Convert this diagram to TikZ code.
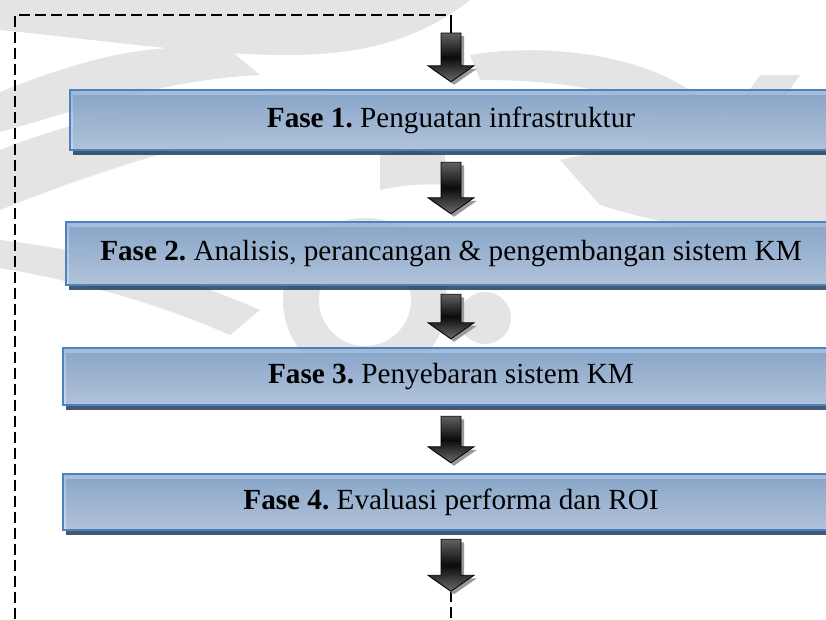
\documentclass[tikz,border=0pt]{standalone}
\usepackage{fontspec}
\setmainfont{Liberation Serif}
\usetikzlibrary{calc,shadows}

\definecolor{boxtop}{HTML}{93B1D6}
\definecolor{boxbot}{HTML}{C3D5EB}
\definecolor{boxline}{HTML}{4F81BD}
\definecolor{boxshadow}{HTML}{243F60}
\definecolor{wmgray}{HTML}{E4E4E4}

\tikzset{
  phase/.style={rectangle, draw=boxline, line width=2.5pt,
    top color=boxtop, bottom color=boxbot, fill opacity=0.86,
    text opacity=1, draw opacity=1,
    general shadow={fill=boxshadow, shadow xshift=3pt, shadow yshift=-5pt},
    inner sep=0pt, text=black,
    font=\fontsize{29.2}{35}\selectfont},
  loopline/.style={line width=1.4pt, dash pattern=on 11pt off 5pt},
  arrowbody/.style={draw=black, line width=0.8pt, top color=black!62,
    bottom color=black!58, middle color=black!96},
  arrowshade/.style={fill=black!40, draw=none},
  wm/.style={fill=wmgray, draw=none}
}

% block arrow from a named top point down to a named tip
\newcommand{\blockarrow}[2]{%
  \path let \p1=(#1), \p2=(#2) in
    [arrowshade] (\x1-7pt,\y1-3pt) -- (\x1+13pt,\y1-3pt) -- (\x1+13pt,\y2+13pt)
      -- (\x1+26pt,\y2+13pt) -- (\x2+3pt,\y2-3pt) -- (\x1-20pt,\y2+13pt)
      -- (\x1-7pt,\y2+13pt) -- cycle;
  \path let \p1=(#1), \p2=(#2) in
    [arrowbody] (\x1-10pt,\y1) -- (\x1+10pt,\y1) -- (\x1+10pt,\y2+16pt)
      -- (\x1+23pt,\y2+16pt) -- (\x2,\y2) -- (\x1-23pt,\y2+16pt)
      -- (\x1-10pt,\y2+16pt) -- cycle;
}

\begin{document}
\frenchspacing
\begin{tikzpicture}[x=1pt,y=-1pt]
  \useasboundingbox (0,0) rectangle (826,619);
  \clip (0,0) rectangle (826,619);

  % faint emblem in the background
  \fill[wm] (0,0) -- (470,0) .. controls (420,40) and (360,55) .. (290,55)
    .. controls (200,55) and (100,40) .. (0,30) -- cycle;
  \fill[wm] (0,92) .. controls (80,60) and (150,40) .. (230,50)
    -- (260,75) .. controls (160,80) and (80,110) .. (0,132) -- cycle;
  \fill[wm] (0,150) .. controls (100,110) and (220,90) .. (330,95)
    -- (340,120) .. controls (220,130) and (100,170) .. (0,210) -- cycle;
  \fill[wm] (0,268) .. controls (70,280) and (150,300) .. (230,335)
    -- (260,310) .. controls (180,275) and (90,250) .. (0,240) -- cycle;
  \fill[wm, even odd rule] (365,300) circle[radius=82] (365,300) circle[radius=46];
  \fill[wm] (485,318) circle[radius=26];
  \fill[wm] (470,55) .. controls (560,40) and (680,60) .. (720,120)
    -- (680,130) .. controls (640,90) and (560,80) .. (480,80) -- cycle;
  \fill[wm] (560,160) .. controls (650,140) and (760,120) .. (826,100)
    -- (826,235) .. controls (760,240) and (680,230) .. (600,205) -- cycle;
  \fill[wm] (700,160) -- (760,75) -- (800,75) -- (740,160) -- cycle;
  \fill[wm] (380,155) .. controls (400,150) and (430,150) .. (445,155)
    -- (445,185) .. controls (420,183) and (400,186) .. (380,190) -- cycle;

  % phase boxes (they run on past the right edge)
  \node[phase, minimum width=762pt, minimum height=60pt] (b1) at (451,120)
    {\textbf{Fase 1.} Penguatan infrastruktur};
  \node[phase, minimum width=770pt, minimum height=63pt] (b2) at (451,253.5)
    {\textbf{Fase 2.} Analisis, perancangan \& pengembangan sistem KM};
  \node[phase, minimum width=776pt, minimum height=57pt] (b3) at (451,376.5)
    {\textbf{Fase 3.} Penyebaran sistem KM};
  \node[phase, minimum width=776pt, minimum height=56pt] (b4) at (451,502)
    {\textbf{Fase 4.} Evaluasi performa dan ROI};

  % feedback loop
  \coordinate (corner) at (451,15);
  \coordinate (loopstart) at (15,619);
  \coordinate (in1) at (451,33);
  \draw[loopline] (loopstart) |- (corner);
  \draw[line width=1.2pt] (corner) -- (in1);

  % arrow end points
  \coordinate (e1) at ($(b1.north)+(0,-7)$);
  \coordinate (s2) at ($(b1.south)+(0,11)$);
  \coordinate (e2) at ($(b2.north)+(0,-7)$);
  \coordinate (s3) at ($(b2.south)+(0,8)$);
  \coordinate (e3) at ($(b3.north)+(0,-8)$);
  \coordinate (s4) at ($(b3.south)+(0,10)$);
  \coordinate (e4) at ($(b4.north)+(0,-10)$);
  \coordinate (s5) at ($(b4.south)+(0,8)$);
  \coordinate (e5) at ($(s5)+(0,52)$);
  \coordinate (out) at (451,619);

  \draw[loopline] (e5) -- (out);

  \blockarrow{in1}{e1}
  \blockarrow{s2}{e2}
  \blockarrow{s3}{e3}
  \blockarrow{s4}{e4}
  \blockarrow{s5}{e5}
\end{tikzpicture}
\end{document}
